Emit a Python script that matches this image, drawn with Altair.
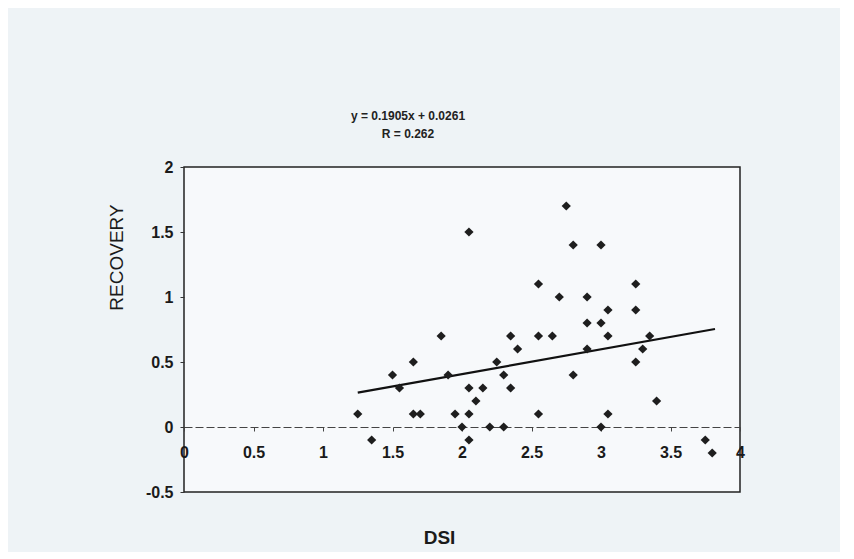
import altair as alt
import pandas as pd

# Data
DSI = [1.25, 1.35, 1.50, 1.55, 1.65, 1.65, 1.70, 1.85, 1.90, 1.95,
       2.05, 2.05, 2.10, 2.05, 2.00, 2.05, 2.75, 2.80, 3.00, 2.55,
       2.70, 2.90, 3.05, 2.90, 3.00, 3.05, 2.35, 2.55, 2.65, 2.40,
       2.90, 2.25, 2.30, 2.35, 2.80, 2.15, 2.55, 2.20, 2.30, 3.00,
       3.05, 3.25, 3.25, 3.35, 3.30, 3.25, 3.40, 3.75, 3.80]
RECOVERY = [0.1, -0.1, 0.4, 0.3, 0.5, 0.1, 0.1, 0.7, 0.4, 0.1,
            1.5, 0.3, 0.2, 0.1, 0.0, -0.1, 1.7, 1.4, 1.4, 1.1,
            1.0, 1.0, 0.9, 0.8, 0.8, 0.7, 0.7, 0.7, 0.7, 0.6,
            0.6, 0.5, 0.4, 0.3, 0.4, 0.3, 0.1, 0.0, 0.0, 0.0,
            0.1, 1.1, 0.9, 0.7, 0.6, 0.5, 0.2, -0.1, -0.2]

# Trendline from the printed equation
SLOPE = 0.1905
INTERCEPT = 0.0261
FIT_X = [1.25, 3.82]

X_TICKS = [0, 0.5, 1, 1.5, 2, 2.5, 3, 3.5, 4]
Y_TICKS = [-0.5, 0, 0.5, 1, 1.5, 2]

pts = pd.DataFrame({"DSI": DSI, "RECOVERY": RECOVERY})
fit = pd.DataFrame({"DSI": FIT_X, "RECOVERY": [SLOPE * v + INTERCEPT for v in FIT_X]})

FONT = "Liberation Sans"
W, H = 556, 325
Y_DOMAIN = [-0.5, 2]
x_offset = -H * (0 - Y_DOMAIN[0]) / (Y_DOMAIN[1] - Y_DOMAIN[0])

x_scale = alt.Scale(domain=[0, 4], nice=False, zero=False)
y_scale = alt.Scale(domain=Y_DOMAIN, nice=False, zero=False)

x_axis = alt.Axis(
    title="DSI", values=X_TICKS, grid=False, offset=x_offset,
    domainColor="#444", domainWidth=1, domainDash=[8, 3],
    tickColor="#444", tickSize=4,
    labelExpr="'' + datum.value",
    labelFont=FONT, labelFontSize=16, labelFontWeight="bold", labelColor="#1a1a1a",
    labelPadding=13, labelFlush=False, labelOverlap=False,
    titleFont=FONT, titleFontSize=19, titleFontWeight="bold", titleColor="#1a1a1a",
    titleX=255, titleY=110, titleBaseline="middle",
)
y_axis = alt.Axis(
    title="RECOVERY", values=Y_TICKS, grid=False, domain=False,
    tickColor="#333", tickSize=4,
    labelExpr="'' + datum.value",
    labelFont=FONT, labelFontSize=16, labelFontWeight="bold", labelColor="#1a1a1a",
    labelPadding=7, labelFlush=False, labelOverlap=False,
    titleFont=FONT, titleFontSize=19, titleFontWeight="normal", titleColor="#1a1a1a",
    titleX=-68, titleY=90, titleBaseline="middle",
)

points = alt.Chart(pts).mark_point(
    shape="diamond", filled=True, size=85, color="#1e1e1e", opacity=1
).encode(
    x=alt.X("DSI:Q", scale=x_scale, axis=x_axis),
    y=alt.Y("RECOVERY:Q", scale=y_scale, axis=y_axis),
)

line = alt.Chart(fit).mark_line(color="#111", strokeWidth=2.2).encode(
    x=alt.X("DSI:Q", scale=x_scale),
    y=alt.Y("RECOVERY:Q", scale=y_scale),
)

chart = alt.layer(line, points).properties(
    width=W, height=H,
    autosize=alt.AutoSizeParams(type="none"),
    padding={"left": 176, "top": 159, "right": 100, "bottom": 60},
    background="#eef3f6",
    title=alt.TitleParams(
        text="y = 0.1905x + 0.0261", subtitle="R = 0.262",
        anchor="middle", dx=-54, offset=18,
        font=FONT, fontSize=12, fontWeight="bold", color="#222",
        subtitleFont=FONT, subtitleFontSize=12, subtitleFontWeight="bold",
        subtitleColor="#222", subtitlePadding=6,
    ),
).configure_view(
    stroke="#222", strokeWidth=1.5, fill="#f7f9fb"
)

chart.save("out.html", embed_options={"renderer": "svg", "actions": False})
